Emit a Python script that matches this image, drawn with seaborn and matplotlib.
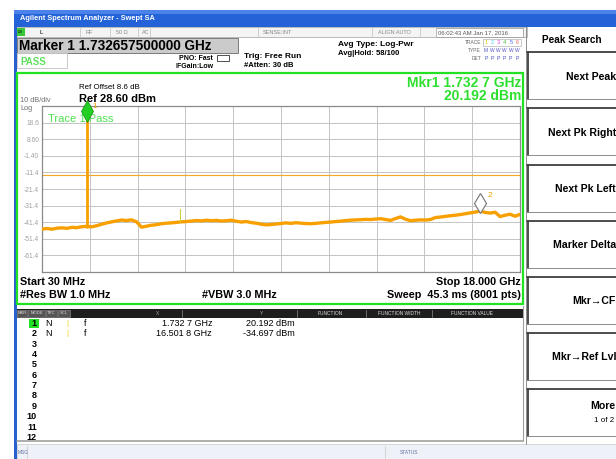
import numpy as np
import pandas as pd
import matplotlib
matplotlib.use("Agg")
import matplotlib.pyplot as plt
import seaborn as sns
from matplotlib.patches import Rectangle

sns.set_theme(style="white")
plt.rcParams['font.family'] = ['Liberation Sans', 'DejaVu Sans']

# ---------------- data ----------------
start_ghz = 0.03
stop_ghz = 18.0
ref_level = 28.60
db_per_div = 10
trace_levels = [
    -45.6, -45.2, -45.6, -45.0, -44.8, -45.1, -44.5, -44.7, -44.1, -43.9,
    -44.2, -43.5, -42.6, -41.8, -41.2, -40.6, -40.1, -40.4, -40.0, -41.2,
    -44.4, -43.8, -43.2, -42.9, -42.3, -42.0, -41.8, -41.5, -41.2, -41.0,
    -40.7, -40.4, -40.6, -40.2, -40.5, -40.3, -40.7, -40.5, -40.2, -40.8,
    -41.3, -41.0, -41.6, -42.0, -42.6, -43.0, -42.8, -42.5, -42.2, -41.8,
    -42.1, -41.7, -42.0, -42.2, -42.3, -42.1, -41.8, -41.5, -41.3, -41.0,
    -40.8, -40.4, -40.2, -40.0, -39.9, -39.7, -39.8, -39.5, -39.3, -39.8,
    -40.3, -39.2, -38.2, -39.6, -40.5, -40.2, -40.0, -40.1, -39.8, -38.6,
    -38.3, -37.9, -37.5, -37.2, -36.8, -36.3, -35.8, -35.3, -34.7, -35.5,
    -35.9, -35.4, -38.0, -37.2, -36.6, -37.8, -36.7,
]
peak_freq = [1.7327, 1.7327]
peak_level = [-44.0, 20.192]
spur_freq = [5.22, 5.22]
spur_level = [-41.5, -33.4]
limit_level = -13.0
mkr_freq = [1.7327, 16.5018]
mkr_level = [20.192, -34.697]
ytick_labels = ["18.6", "8.60", "-1.40", "-11.4", "-21.4", "-31.4", "-41.4", "-51.4", "-61.4"]
mkr_x_text = ["1.732 7 GHz", "16.501 8 GHz"]
mkr_y_text = ["20.192 dBm", "-34.697 dBm"]
buttons = ["Next Peak", "Next Pk Right", "Next Pk Left", "Marker Delta", "Mkr\u2192CF", "Mkr\u2192Ref Lvl"]

freqs = np.linspace(start_ghz, stop_ghz, len(trace_levels))
df = pd.DataFrame({"freq": freqs, "level": trace_levels})

W, H = 616, 459
fig = plt.figure(figsize=(W / 100, H / 100), dpi=100)
fig.patch.set_facecolor("white")

# chrome axes in pixel coordinates
ch = fig.add_axes([0, 0, 1, 1])
ch.set_xlim(0, W)
ch.set_ylim(H, 0)
ch.axis("off")

def rect(x0, y0, x1, y1, fc="none", ec="none", lw=0.8, z=1):
    ch.add_patch(Rectangle((x0, y0), x1 - x0, y1 - y0, facecolor=fc, edgecolor=ec, lw=lw, zorder=z))

def txt(x, y, s, size=6, color="black", weight="normal", ha="left", va="center", **kw):
    ch.text(x, y, s, fontsize=size, color=color, fontweight=weight, ha=ha, va=va, zorder=5, **kw)

# left blue window edge
rect(14, 10, 16.5, H, fc="#2a5fd0")
# title bar
rect(14, 10, W, 27, fc="#2462d8")
rect(14, 10, W, 14, fc="#4a82ea")
txt(20, 19, "Agilent Spectrum Analyzer - Swept SA", size=5.3, color="white", weight="bold")

# status row
rect(16.5, 27, 527, 37, fc="#f4f4f4", ec="#b0b0b0", lw=0.6)
rect(17, 28, 25, 36, fc="#38c838")
txt(18, 32, "LXI", size=2.5, color="black")
for xs in [80, 110, 138, 150, 258, 372, 420, 436]:
    ch.plot([xs, xs], [27.5, 36.5], color="#c0c0c0", lw=0.5, zorder=3)
txt(40, 32, "L", size=4.5)
txt(86, 32, "RF", size=4, color="#888888")
txt(116, 32, "50 \u03a9", size=4, color="#888888")
txt(142, 32, "AC", size=4, color="#888888")
txt(263, 32, "SENSE:INT", size=4, color="#888888")
txt(378, 32, "ALIGN AUTO", size=4, color="#888888")
rect(436, 28, 523, 36.5, fc="white", ec="#909090", lw=0.5)
txt(438, 32.5, "06:02:43 AM Jan 17, 2016", size=4.3, color="#555555")

# marker header box
rect(17, 37.5, 238, 52.5, fc="#cbcbcb", ec="#7a7a7a", lw=0.7)
txt(19, 45.5, "Marker 1 1.732657500000 GHz", size=9.8, weight="bold")
rect(17, 53, 67, 68, fc="white", ec="#c0c0c0", lw=0.6)
txt(20, 62, "PASS", size=7, color="#5fe05f", weight="bold")

txt(213, 58, "PNO: Fast", size=5, weight="bold", ha="right")
rect(217, 55, 229, 61, fc="white", ec="#333333", lw=0.6)
txt(175, 66.5, "IFGain:Low", size=5, weight="bold")
txt(244, 56, "Trig: Free Run", size=6, weight="bold")
txt(244, 65.5, "#Atten: 30 dB", size=5.5, weight="bold")
txt(338, 44, "Avg Type: Log-Pwr", size=6, weight="bold")
txt(338, 53.5, "Avg|Hold: 58/100", size=5.5, weight="bold")

txt(481, 42, "TRACE", size=3.5, color="#666666", ha="right")
txt(481, 50, "TYPE", size=3.5, color="#666666", ha="right")
txt(481, 58, "DET", size=3.5, color="#666666", ha="right")
rect(483, 38.5, 521, 46, fc="white", ec="#a0a0a0", lw=0.4)
tr_cols = ["#e8c800", "#40d0f0", "#e040e0", "#40c040", "#4060ff", "#e06060"]
for i, c in enumerate(tr_cols):
    txt(486 + 6.2 * i, 42.3, str(i + 1), size=4, color=c, ha="center")
    txt(486 + 6.2 * i, 50, "M" if i == 0 else "W", size=3.5, color="#5050c0", ha="center")
    txt(486 + 6.2 * i, 58, "P", size=3.8, color="#5050c0", ha="center")

# green frame around display
rect(16.5, 73, 523, 304, ec="#22e022", lw=1.6, z=4)

txt(521, 83, "Mkr1 1.732 7 GHz", size=10, color="#2ee02e", weight="bold", ha="right")
txt(521, 96, "20.192 dBm", size=10, color="#2ee02e", weight="bold", ha="right")
txt(79, 87.5, "Ref Offset 8.6 dB", size=5.7)
txt(79, 99, "Ref 28.60 dBm", size=8, weight="bold")
txt(20, 101, "10 dB/div", size=5.3, color="#707070")
txt(20, 108.5, "Log", size=5.3, color="#707070")

txt(20, 282, "Start 30 MHz", size=7.8, weight="bold")
txt(20, 294.5, "#Res BW 1.0 MHz", size=7.8, weight="bold")
txt(202, 294.5, "#VBW 3.0 MHz", size=7.8, weight="bold")
txt(521, 282, "Stop 18.000 GHz", size=7.8, weight="bold", ha="right")
txt(521, 294.5, "Sweep  45.3 ms (8001 pts)", size=7.8, weight="bold", ha="right")

# marker table
rect(17, 308.5, 523, 318, fc="#1e1e1e")
for (x0, x1, lab) in [(17, 27, "MKR"), (28, 45, "MODE"), (46, 57, "TRC"), (58, 70, "SCL")]:
    rect(x0, 309.5, x1, 317, fc="#555555", ec="#909090", lw=0.4)
    txt((x0 + x1) / 2, 313.5, lab, size=3, color="#dddddd", ha="center")
for xs in [182, 297, 366, 432]:
    ch.plot([xs, xs], [309.5, 317], color="#909090", lw=0.5, zorder=3)
txt(158, 313.5, "X", size=3.5, color="#aaaaaa", ha="center")
txt(262, 313.5, "Y", size=3.5, color="#aaaaaa", ha="center")
txt(330, 313.5, "FUNCTION", size=3.5, color="#dddddd", ha="center")
txt(399, 313.5, "FUNCTION WIDTH", size=3.5, color="#dddddd", ha="center")
txt(472, 313.5, "FUNCTION VALUE", size=3.5, color="#dddddd", ha="center")
row_y0, row_dy = 323.5, 10.35
rect(29, row_y0 - 4.5, 39, row_y0 + 4.5, fc="#22e022")
for k in range(12):
    txt(37, row_y0 + row_dy * k, str(k + 1), size=6.5, weight="bold", ha="right")
for k in range(2):
    y = row_y0 + row_dy * k
    txt(45, y, "N", size=6.5)
    txt(66, y, "|", size=6, color="#f0d000")
    txt(84, y, "f", size=6.5)
    txt(212, y, mkr_x_text[k], size=6.5, ha="right")
    txt(295, y, mkr_y_text[k], size=6.5, ha="right")
ch.plot([17, 523], [441, 441], color="#a0a0a0", lw=1.2, zorder=3)
ch.plot([523, 523], [306, 441], color="#a0a0a0", lw=0.8, zorder=3)

# bottom status bar
rect(16.5, 444, W, H, fc="#eef2f8", ec="#c8c8c8", lw=0.5)
txt(18, 452, "MSG", size=3.5, color="#6070a0")
ch.plot([27, 27], [446, 458], color="#c8c8c8", lw=0.5)
txt(400, 452, "STATUS", size=3.5, color="#6070a0")
ch.plot([385, 385], [446, 458], color="#c8c8c8", lw=0.5)

# right soft-key panel
ch.plot([525.5, 525.5], [27, 444], color="#909090", lw=0.7, zorder=3)
txt(572, 40, "Peak Search", size=7.2, weight="bold", ha="center")
btn_tops = [52, 108, 165, 221, 277, 333, 389]
btn_h = 47
for i, yt in enumerate(btn_tops):
    rect(527, yt, 620, yt + btn_h, fc="white", ec="#d0d0d0", lw=0.6)
    ch.plot([527, 620], [yt, yt], color="#404040", lw=1.3, zorder=3)
    ch.plot([527.5, 527.5], [yt, yt + btn_h], color="#404040", lw=1.3, zorder=3)
    ch.plot([527, 620], [yt + btn_h, yt + btn_h], color="#808080", lw=0.6, zorder=3)
    if i < len(buttons):
        txt(616, yt + btn_h / 2 + 1, buttons[i], size=7.6, weight="bold", ha="right")
txt(615, 406, "More", size=7.6, weight="bold", ha="right")
txt(614, 421, "1 of 2", size=5.8, ha="right")

# ---------------- main trace axes ----------------
x0, y0, x1, y1 = 42, 106, 520, 272
ax = fig.add_axes([x0 / W, 1 - y1 / H, (x1 - x0) / W, (y1 - y0) / H])
ax.set_facecolor("white")
ax.set_xlim(start_ghz, stop_ghz)
bottom = ref_level - 10 * db_per_div
ax.set_ylim(bottom, ref_level)
xt = np.linspace(start_ghz, stop_ghz, 11)
yt = [ref_level - db_per_div * k for k in range(11)]
ax.set_xticks(xt)
ax.set_yticks(yt)
ax.set_xticklabels([])
ax.set_yticklabels([""] + ytick_labels + [""])
ax.tick_params(axis="y", length=0, pad=2, labelsize=4.8, labelcolor="#a0a0a0")
ax.tick_params(axis="x", length=0)
ax.grid(True, color="#c4c4c4", lw=0.7)
for s in ax.spines.values():
    s.set_color("#8a8a8a")
    s.set_linewidth(0.9)

ax.axhline(limit_level, color="#f5a623", lw=0.8, zorder=2)
sns.lineplot(data=df, x="freq", y="level", ax=ax, color="#f7a000", lw=2.4, zorder=3)
ax.plot(peak_freq, peak_level, color="#f7a000", lw=2.0, zorder=3)
ax.plot(spur_freq, spur_level, color="#c8d040", lw=0.8, zorder=3)
ax.set_xlabel("")
ax.set_ylabel("")

# markers
ax.plot([mkr_freq[0]], [mkr_level[0] + 5.5], marker="d", markersize=11, color="#22d022",
        markeredgecolor="#118811", markeredgewidth=0.5, zorder=6, clip_on=False)
ax.text(mkr_freq[0] + 0.2, mkr_level[0] + 7, "1", fontsize=6, color="#f0a000", zorder=6)
ax.plot([mkr_freq[1]], [mkr_level[1] + 4.8], marker="d", markersize=10, color="white",
        markeredgecolor="#808080", markeredgewidth=0.9, zorder=6)
ax.text(mkr_freq[1] + 0.28, mkr_level[1] + 8.5, "2", fontsize=6, color="#f0a000", zorder=6)
ax.text(0.25, 21.0, "Trace 1 Pass", fontsize=8, color="#4ee04e", zorder=5, va="center")

fig.savefig("out.png", dpi=100, facecolor="white")
